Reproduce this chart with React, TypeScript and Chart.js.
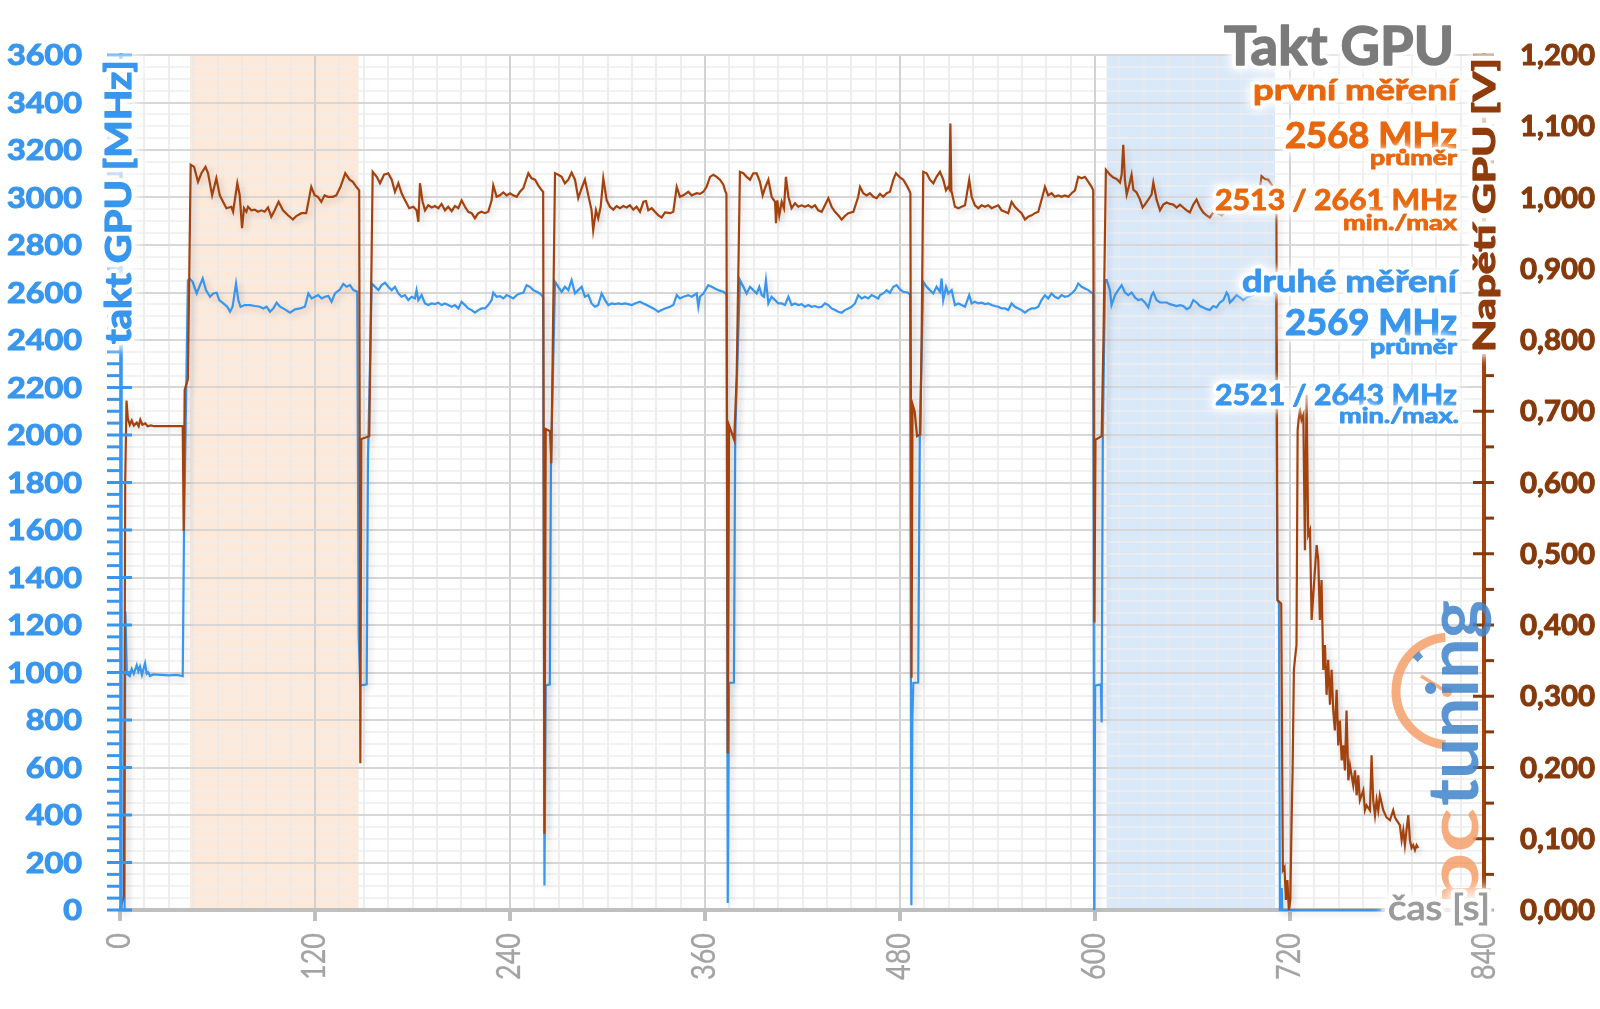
import { useEffect, useRef } from 'react';
import { Chart, registerables } from 'chart.js';

Chart.register(...registerables);

const W = 1600;
const H = 1009;

// ---------- axis ticks ----------
const timeTicks = [0, 120, 240, 360, 480, 600, 720, 840];
const clockTicks = [0, 200, 400, 600, 800, 1000, 1200, 1400, 1600, 1800, 2000, 2200, 2400, 2600, 2800, 3000, 3200, 3400, 3600];
const voltTicks = [0, 0.1, 0.2, 0.3, 0.4, 0.5, 0.6, 0.7, 0.8, 0.9, 1.0, 1.1, 1.2];
const voltTickLabels = ['0,000', '0,100', '0,200', '0,300', '0,400', '0,500', '0,600', '0,700', '0,800', '0,900', '1,000', '1,100', '1,200'];

// shaded ranges [from s, to s]
const bandFirst = [43.1, 146.8];
const bandSecond = [607.2, 710.8];

// ---------- GPU voltage [V] ----------
const voltageStart = [[0, 0], [2.4, 0.02], [3.2, 0.6], [4.0, 0.715], [4.8, 0.69], [6, 0.681], [7.2, 0.687], [8.5, 0.68], [10.3, 0.684], [11.5, 0.679], [12.5, 0.688], [13.8, 0.681], [15.5, 0.683], [17, 0.679], [19, 0.68], [21, 0.679], [38.6, 0.679], [39.2, 0.532], [39.8, 0.73], [41.8, 0.745], [43.5, 1.046]];
const voltageRun1 = [[45.6, 1.043], [48.0, 1.022], [50.1, 1.034], [52.6, 1.043], [54.2, 1.034], [56.7, 1.003], [59.3, 1.027], [61.4, 1.003], [63.4, 0.994], [65.5, 0.985], [68.5, 0.987], [69.6, 0.980], [72.2, 1.020], [73.7, 1.003], [75.1, 0.957], [76.3, 0.985], [77.8, 0.980], [78.8, 0.987], [80.8, 0.982], [82.9, 0.983], [84.9, 0.980], [87.0, 0.982], [89.0, 0.980], [91.1, 0.986], [93.1, 0.973], [95.2, 0.982], [97.6, 0.994], [100.3, 0.982], [103.4, 0.975], [106.4, 0.969], [108.5, 0.974], [111.6, 0.978], [114.6, 0.978], [117.7, 1.015], [119.8, 1.003], [121.8, 1.001], [123.9, 0.994], [125.9, 1.003], [128.0, 1.001], [131.0, 1.001], [133.1, 1.003], [135.7, 1.015], [138.6, 1.034], [141.3, 1.025], [143.3, 1.022], [145.4, 1.015], [147.2, 1.010], [147.9, 0.206], [148.5, 0.661], [153.4, 0.665]];
const voltageRun2 = [[155.5, 1.036], [158.0, 1.029], [160.0, 1.020], [162.5, 1.032], [165.1, 1.034], [167.2, 1.025], [169.2, 1.008], [171.3, 1.020], [173.3, 1.006], [175.4, 0.996], [178.0, 0.985], [180.5, 0.987], [182.5, 0.982], [183.6, 0.966], [184.6, 1.020], [186.2, 0.994], [187.7, 0.982], [189.7, 0.989], [191.8, 0.986], [193.8, 0.988], [195.9, 0.985], [197.9, 0.991], [200.0, 0.982], [202.0, 0.987], [204.1, 0.981], [206.1, 0.988], [208.2, 0.985], [210.2, 0.996], [212.3, 0.987], [214.3, 0.980], [216.4, 0.978], [218.4, 0.971], [220.5, 0.978], [222.5, 0.980], [224.6, 0.978], [226.6, 0.980], [228.7, 0.996], [229.7, 1.017], [231.8, 1.001], [233.8, 1.003], [235.9, 1.007], [237.9, 1.003], [240.0, 1.006], [242.0, 1.003], [244.1, 1.001], [246.1, 1.008], [248.2, 1.013], [250.2, 1.027], [251.3, 1.034], [253.3, 1.027], [255.4, 1.025], [257.4, 1.017], [259.5, 1.010], [260.4, 1.008], [261.2, 0.107], [262.0, 0.675], [264.6, 0.672], [265.4, 0.627]];
const voltageRun3 = [[267.7, 1.034], [269.7, 1.032], [271.8, 1.029], [273.8, 1.020], [275.9, 1.025], [277.9, 1.035], [280.0, 1.025], [282.0, 0.999], [284.1, 1.013], [286.1, 1.025], [288.2, 1.003], [290.2, 0.982], [291.2, 0.954], [292.9, 0.982], [294.3, 0.971], [295.8, 0.987], [297.4, 1.027], [299.5, 0.996], [301.5, 0.987], [303.6, 0.983], [305.6, 0.988], [307.7, 0.985], [309.7, 0.988], [311.8, 0.986], [313.8, 0.989], [315.9, 0.983], [317.9, 0.987], [320.0, 0.980], [322.1, 0.994], [323.7, 0.995], [325.1, 0.982], [327.2, 0.985], [329.2, 0.980], [331.3, 0.975], [333.3, 0.972], [335.4, 0.979], [338.5, 0.978], [340.5, 0.980], [342.6, 1.015], [344.6, 1.001], [346.7, 1.003], [349.7, 1.008], [351.8, 1.003], [354.9, 1.006], [356.9, 1.005], [359.0, 1.008], [361.0, 1.015], [363.1, 1.029], [365.1, 1.032], [367.2, 1.029], [369.2, 1.025], [371.3, 1.018], [372.3, 1.010], [373.2, 1.005], [374.0, 0.22], [374.8, 0.68], [378.0, 0.66], [379.5, 0.75]];
const voltageRun4 = [[381.5, 1.036], [383.6, 1.034], [385.6, 1.029], [387.7, 1.025], [389.7, 1.034], [391.8, 1.034], [393.8, 1.022], [395.5, 1.003], [396.9, 1.013], [399.0, 1.025], [401.0, 1.001], [403.1, 0.994], [403.7, 0.964], [404.5, 0.996], [405.7, 0.975], [407.2, 0.994], [408.6, 0.985], [409.8, 1.029], [411.3, 1.001], [413.3, 0.985], [415.4, 0.992], [417.4, 0.987], [419.5, 0.989], [421.5, 0.987], [423.6, 0.989], [425.6, 0.986], [427.7, 0.989], [429.7, 0.982], [431.8, 0.980], [433.8, 0.989], [435.9, 0.999], [437.9, 0.987], [440.0, 0.980], [442.0, 0.975], [444.1, 0.969], [446.1, 0.974], [448.2, 0.978], [451.3, 0.980], [454.3, 1.001], [455.4, 1.015], [457.4, 1.006], [459.5, 1.003], [461.5, 1.006], [463.6, 1.001], [465.6, 0.999], [467.7, 1.005], [469.7, 1.001], [471.8, 1.006], [473.8, 1.008], [475.9, 1.025], [477.5, 1.034], [479.6, 1.029], [482.0, 1.025], [484.1, 1.017], [485.7, 1.010], [486.4, 1.006], [487.1, 0.326], [487.7, 0.71], [489.0, 0.70], [490.5, 0.665], [492.5, 0.668], [493.3, 0.80]];
const voltageRun5 = [[494.3, 1.036], [496.4, 1.034], [498.4, 1.025], [500.5, 1.020], [502.5, 1.029], [504.6, 1.036], [506.6, 1.025], [508.3, 1.010], [509.7, 1.015], [510.4, 1.012], [511.0, 1.104], [511.6, 1.010], [513.8, 0.987], [515.9, 0.985], [517.9, 0.987], [520.0, 0.989], [522.6, 1.025], [524.1, 1.001], [526.1, 0.989], [528.2, 0.985], [530.2, 0.989], [532.3, 0.987], [534.3, 0.989], [536.4, 0.985], [538.4, 0.987], [540.5, 0.989], [542.5, 0.982], [544.6, 0.980], [546.6, 0.978], [548.7, 0.994], [550.7, 0.987], [552.8, 0.982], [554.8, 0.978], [556.9, 0.969], [558.9, 0.973], [561.0, 0.975], [563.0, 0.978], [565.1, 0.980], [568.2, 1.006], [569.2, 1.015], [571.2, 1.003], [573.3, 1.006], [575.3, 1.001], [577.4, 1.003], [579.4, 1.001], [581.5, 1.003], [583.6, 1.001], [585.6, 1.006], [587.7, 1.010], [589.7, 1.029], [591.8, 1.027], [593.8, 1.029], [595.9, 1.022], [597.9, 1.015], [598.9, 1.010], [599.6, 0.404], [600.3, 0.66], [604.1, 0.665], [605.2, 0.80]];
const voltageRun6 = [[606.7, 1.039], [609.2, 1.032], [611.3, 1.028], [613.3, 1.026], [615.4, 1.021], [616.4, 1.032], [617.4, 1.074], [618.4, 1.025], [619.5, 1.004], [621.1, 1.018], [622.5, 1.032], [623.6, 1.011], [625.6, 1.007], [627.7, 0.997], [629.3, 0.986], [630.7, 0.990], [632.8, 0.997], [634.8, 1.004], [635.9, 1.021], [637.9, 0.997], [640.0, 0.982], [642.0, 0.990], [644.1, 0.993], [646.1, 0.991], [648.2, 0.990], [650.2, 0.986], [652.3, 0.990], [654.3, 0.986], [656.4, 0.982], [658.4, 0.979], [660.5, 0.990], [662.5, 0.997], [664.6, 0.986], [666.6, 0.979], [668.7, 0.975], [670.7, 0.972], [672.8, 0.979], [674.8, 0.979], [678, 0.975], [682, 0.985], [686, 0.99], [690, 0.985], [694, 0.995], [698, 1.0], [701, 1.005], [702.5, 1.030], [704.6, 1.026], [706.6, 1.025], [708.7, 1.018], [710.7, 1.01], [711.6, 1.005]];
const voltageTail = [[712.3, 0.435], [714.6, 0.43], [715.6, 0.056], [716.6, 0.06], [717.5, 0.014], [718.4, 0.042], [719.3, 0.0], [720.2, 0.014], [721.0, 0.126], [721.6, 0.196], [722.4, 0.337], [723.0, 0.351], [724.0, 0.372], [724.7, 0.674], [725.3, 0.688], [726.1, 0.702], [727.1, 0.688], [728.2, 0.695], [729.2, 0.505], [730.2, 0.723], [731.2, 0.526], [732.3, 0.533], [733.3, 0.407], [734.3, 0.442], [736.4, 0.512], [737.4, 0.491], [738.4, 0.407], [739.4, 0.463], [740.5, 0.337], [741.5, 0.372], [742.5, 0.302], [743.5, 0.351], [744.6, 0.288], [745.6, 0.337], [746.6, 0.280], [747.6, 0.252], [748.7, 0.309], [749.7, 0.231], [750.7, 0.266], [751.8, 0.210], [752.8, 0.231], [753.8, 0.196], [754.8, 0.280], [755.9, 0.182], [756.9, 0.203], [758.9, 0.175], [760.0, 0.196], [761.0, 0.161], [762.0, 0.189], [763.0, 0.154], [765.1, 0.168], [766.1, 0.140], [767.1, 0.147], [769.2, 0.140], [770.2, 0.217], [771.2, 0.154], [772.3, 0.133], [773.3, 0.154], [774.3, 0.140], [775.3, 0.161], [777.4, 0.140], [779.4, 0.130], [781.5, 0.126], [783.5, 0.140], [784.6, 0.130], [785.6, 0.126], [787.6, 0.119], [788.7, 0.098], [789.7, 0.112], [790.7, 0.091], [791.7, 0.112], [792.8, 0.133], [793.8, 0.098], [794.8, 0.087], [795.8, 0.091], [796.9, 0.084], [797.9, 0.091], [798.9, 0.087]];

// ---------- GPU clock [MHz] ----------
const clockStart = [[0, 0], [2.8, 0], [3.3, 1257], [4.2, 995], [6, 985], [7.2, 1015], [8.5, 995], [10.3, 1031], [11.3, 1005], [12.3, 1025], [13.5, 990], [15.4, 1039], [16.5, 995], [17.4, 1000], [18.5, 985], [20.5, 992], [25, 990], [30, 988], [35, 990], [38.6, 985], [39.4, 1600], [41.8, 2650]];
const clockRun1 = [[42.7, 2659], [44.7, 2645], [47.2, 2596], [48.8, 2624], [50.9, 2659], [52.9, 2610], [55.4, 2582], [57.4, 2596], [59.5, 2599], [61.1, 2568], [63.6, 2554], [66.0, 2540], [67.7, 2519], [69.3, 2540], [71.4, 2638], [72.8, 2568], [74.2, 2540], [76.9, 2547], [80.0, 2547], [83.1, 2543], [86.1, 2540], [88.2, 2533], [90.2, 2540], [92.3, 2519], [94.4, 2533], [96.4, 2557], [98.5, 2540], [101.5, 2529], [104.6, 2515], [107.7, 2529], [110.8, 2533], [113.8, 2540], [115.9, 2596], [117.9, 2575], [120.0, 2582], [122.0, 2589], [124.1, 2575], [126.1, 2582], [128.2, 2585], [130.2, 2561], [132.3, 2596], [135.4, 2613], [137.4, 2636], [139.5, 2624], [141.5, 2631], [143.6, 2610], [146.0, 2603], [146.9, 1150], [147.8, 945], [151.8, 950], [152.6, 1900]];
const clockRun2 = [[154.9, 2638], [156.9, 2624], [159.0, 2610], [161.0, 2631], [163.1, 2641], [165.1, 2624], [167.2, 2610], [169.2, 2624], [171.3, 2596], [173.3, 2582], [175.4, 2589], [177.4, 2568], [179.5, 2582], [181.5, 2575], [182.5, 2610], [183.6, 2568], [185.6, 2589], [187.7, 2554], [189.7, 2547], [191.8, 2554], [193.8, 2551], [195.9, 2557], [197.9, 2547], [200.0, 2554], [202.0, 2547], [204.1, 2540], [206.1, 2547], [208.2, 2533], [210.2, 2561], [212.3, 2547], [214.3, 2533], [216.4, 2526], [218.4, 2515], [220.5, 2526], [222.5, 2533], [224.6, 2533], [226.6, 2547], [228.7, 2568], [229.7, 2599], [231.8, 2582], [233.8, 2585], [235.9, 2575], [237.9, 2589], [240.0, 2582], [242.0, 2575], [244.1, 2589], [246.1, 2596], [248.2, 2599], [250.2, 2631], [252.3, 2624], [254.3, 2610], [256.4, 2603], [258.4, 2596], [259.5, 2589], [260.4, 2580], [261.2, 103], [262.0, 945], [264.5, 950], [265.2, 1882]];
const clockRun3 = [[267.7, 2645], [269.7, 2624], [271.8, 2603], [273.8, 2624], [275.9, 2610], [277.9, 2652], [280.0, 2596], [282.0, 2610], [284.1, 2624], [286.1, 2582], [288.2, 2589], [290.2, 2554], [292.3, 2540], [294.3, 2547], [296.4, 2596], [298.5, 2568], [300.5, 2547], [302.6, 2554], [304.6, 2551], [306.7, 2554], [308.7, 2551], [310.8, 2554], [312.8, 2551], [314.9, 2547], [316.9, 2554], [320.0, 2561], [322.1, 2554], [324.1, 2547], [326.2, 2540], [328.2, 2533], [331.3, 2519], [333.3, 2526], [335.4, 2533], [338.5, 2540], [340.5, 2547], [342.6, 2589], [344.6, 2575], [346.7, 2582], [349.7, 2589], [351.8, 2582], [354.9, 2596], [355.9, 2540], [356.9, 2582], [359.0, 2596], [362.0, 2631], [364.1, 2624], [366.1, 2617], [368.2, 2610], [371.3, 2603], [372.3, 2599], [373.3, 2590], [374.0, 29], [374.8, 956], [377.8, 958], [378.6, 2000]];
const clockRun4 = [[381.5, 2652], [383.6, 2624], [385.6, 2596], [387.7, 2624], [389.7, 2610], [391.8, 2596], [393.4, 2624], [394.9, 2589], [396.3, 2582], [397.5, 2652], [399.0, 2554], [401.0, 2582], [403.1, 2568], [405.1, 2554], [407.2, 2554], [409.2, 2547], [411.3, 2582], [413.3, 2547], [415.4, 2554], [417.4, 2547], [419.5, 2551], [421.5, 2540], [423.6, 2547], [425.6, 2540], [427.7, 2543], [429.7, 2537], [431.8, 2540], [433.8, 2554], [435.9, 2547], [437.9, 2533], [440.0, 2526], [442.0, 2519], [444.1, 2515], [446.1, 2526], [448.2, 2533], [450.2, 2540], [452.3, 2554], [454.3, 2589], [456.4, 2575], [458.4, 2582], [460.5, 2575], [462.5, 2589], [464.6, 2582], [466.6, 2575], [467.7, 2589], [469.7, 2596], [471.8, 2610], [473.8, 2599], [475.9, 2624], [477.9, 2631], [480.0, 2613], [482.0, 2603], [485.1, 2599], [486.2, 2590], [487.0, 20], [487.6, 800], [488.2, 956], [491.2, 958], [492.2, 2000]];
const clockRun5 = [[494.3, 2645], [496.4, 2624], [498.4, 2610], [500.5, 2596], [502.5, 2624], [504.6, 2603], [505.6, 2659], [506.6, 2568], [508.3, 2624], [509.7, 2596], [511.8, 2610], [513.8, 2547], [515.9, 2554], [517.9, 2547], [520.0, 2540], [522.6, 2589], [524.1, 2554], [526.1, 2561], [528.2, 2554], [530.2, 2557], [532.3, 2551], [534.3, 2554], [536.4, 2547], [538.4, 2543], [540.5, 2540], [542.5, 2533], [544.6, 2533], [546.6, 2526], [548.7, 2554], [550.7, 2540], [552.8, 2533], [554.8, 2526], [556.9, 2515], [558.9, 2526], [561.0, 2533], [563.0, 2533], [565.1, 2540], [567.1, 2568], [569.2, 2589], [571.2, 2575], [573.3, 2596], [575.3, 2582], [577.4, 2575], [579.4, 2589], [581.5, 2582], [583.6, 2585], [585.6, 2596], [587.7, 2610], [589.7, 2638], [591.8, 2624], [593.8, 2617], [595.9, 2610], [597.9, 2599], [598.9, 2596], [599.5, 0], [600.1, 945], [603.6, 950], [604.1, 790], [604.8, 1990]];
const clockRun6 = [[606.2, 2652], [607.2, 2652], [609.2, 2610], [610.2, 2547], [612.3, 2589], [614.3, 2610], [616.4, 2631], [618.4, 2600], [620.5, 2589], [622.5, 2600], [624.6, 2579], [626.6, 2568], [628.7, 2572], [630.7, 2558], [632.8, 2537], [634.8, 2589], [635.9, 2600], [637.9, 2568], [640.0, 2558], [642.0, 2558], [644.1, 2558], [646.1, 2551], [648.2, 2547], [650.2, 2543], [652.3, 2547], [654.3, 2543], [656.4, 2530], [658.4, 2537], [660.5, 2568], [662.5, 2558], [664.6, 2543], [666.6, 2537], [668.7, 2530], [670.7, 2526], [672.8, 2543], [674.8, 2537], [676.9, 2558], [679.0, 2568], [681.0, 2600], [682.0, 2589], [683.0, 2558], [685.1, 2572], [687.1, 2589], [689.2, 2579], [691.2, 2568], [693.3, 2579], [696, 2585], [700, 2600], [703, 2620], [706, 2610], [709, 2600], [711.4, 2595]];
const clockTail = [[712.2, 1310], [713.2, 1290], [713.8, 0], [714.6, 0], [714.9, 93], [715.3, 0], [776, 0]];

// ---------- colours ----------
const BLUE = '#3896EE';
const BROWN_LINE = '#A4420E';
const BROWN_TEXT = '#863A0B';
const ORANGE = '#E8670D';
const GRAY_TITLE = '#7B7B7B';
const GRAY_TICK = '#A3A3A3';
const FONT = 'Lato, "Open Sans", "DejaVu Sans", sans-serif';

const toPts = (a: number[][]) => a.map(([x, y]) => ({ x, y }));

type TOpts = {
  size: number;
  weight?: string;
  color: string;
  align?: CanvasTextAlign;
  base?: CanvasTextBaseline;
  w?: number;
  sx?: number;
  rot?: boolean;
  halo?: number;
  alpha?: number;
  bold?: number;
};

function measure(ctx: CanvasRenderingContext2D, s: string, size: number, weight = 'bold') {
  ctx.save();
  ctx.font = `${weight} ${size}px ${FONT}`;
  const m = ctx.measureText(s).width;
  ctx.restore();
  return m;
}

function drawText(ctx: CanvasRenderingContext2D, s: string, x: number, y: number, o: TOpts) {
  ctx.save();
  ctx.font = `${o.weight ?? 'bold'} ${o.size}px ${FONT}`;
  const m = ctx.measureText(s).width;
  ctx.translate(x, y);
  if (o.rot) ctx.rotate(-Math.PI / 2);
  const sx = o.w ? o.w / m : o.sx ?? 1;
  ctx.scale(sx, 1);
  ctx.textAlign = o.align ?? 'left';
  ctx.textBaseline = o.base ?? 'alphabetic';
  if (o.alpha !== undefined) ctx.globalAlpha = o.alpha;
  ctx.lineJoin = 'round';
  if (o.halo) {
    ctx.strokeStyle = 'rgba(255,255,255,0.95)';
    ctx.shadowColor = '#ffffff';
    ctx.shadowBlur = o.halo * 1.5;
    ctx.lineWidth = o.halo;
    ctx.strokeText(s, 0, 0);
    ctx.strokeText(s, 0, 0);
    ctx.shadowBlur = 0;
    ctx.shadowColor = 'rgba(0,0,0,0)';
  }
  ctx.fillStyle = o.color;
  ctx.fillText(s, 0, 0);
  const b = o.bold ?? (o.weight === 'normal' ? 0 : 0.9);
  if (b > 0) {
    ctx.strokeStyle = o.color;
    ctx.lineWidth = b;
    ctx.strokeText(s, 0, 0);
  }
  ctx.restore();
}

const decor = {
  id: 'decor',
  beforeDraw(chart: any) {
    const { ctx } = chart;
    ctx.save();
    ctx.fillStyle = '#ffffff';
    ctx.fillRect(0, 0, chart.width, chart.height);
    ctx.restore();
  },
  beforeDatasetsDraw(chart: any) {
    const { ctx, chartArea: a, scales } = chart;
    const x = scales.x;
    const y = scales.y;
    ctx.save();
    const band = (r: number[], col: string) => {
      const x0 = x.getPixelForValue(r[0]);
      const x1 = x.getPixelForValue(r[1]);
      ctx.fillStyle = col;
      ctx.fillRect(x0, a.top, x1 - x0, a.bottom - a.top);
    };
    band(bandFirst, '#FDE9DA');
    band(bandSecond, '#DAE9F9');
    for (let pass = 0; pass < 2; pass++) {
      for (let t = 0; t <= 840; t += 15) {
        const major = t % 120 === 0;
        if ((pass === 1) !== major) continue;
        const px = Math.round(x.getPixelForValue(t));
        ctx.strokeStyle = major ? '#D2D2D2' : '#E8E8E8';
        ctx.lineWidth = major ? 2 : 1.5;
        ctx.beginPath();
        ctx.moveTo(px, a.top);
        ctx.lineTo(px, a.bottom);
        ctx.stroke();
      }
      for (let m = 0; m <= 3600; m += 50) {
        const major = m % 200 === 0;
        if ((pass === 1) !== major) continue;
        const py = Math.round(y.getPixelForValue(m));
        ctx.strokeStyle = major ? '#D7D7D7' : '#EEEEEE';
        ctx.lineWidth = major ? 2 : 1.5;
        ctx.beginPath();
        ctx.moveTo(a.left, py);
        ctx.lineTo(a.right, py);
        ctx.stroke();
      }
    }
    ctx.strokeStyle = '#BFBFBF';
    ctx.lineWidth = 4;
    ctx.beginPath();
    ctx.moveTo(a.left, a.bottom);
    ctx.lineTo(a.right, a.bottom);
    ctx.stroke();
    timeTicks.forEach((t) => {
      const px = x.getPixelForValue(t);
      ctx.beginPath();
      ctx.moveTo(px, a.bottom);
      ctx.lineTo(px, a.bottom + 11);
      ctx.stroke();
    });
    ctx.restore();
    ctx.save();
    ctx.shadowColor = 'rgba(0,0,0,0.16)';
    ctx.shadowBlur = 6;
    ctx.shadowOffsetX = 3;
    ctx.shadowOffsetY = 3;
  },
  afterDatasetsDraw(chart: any) {
    chart.ctx.restore();
  },
  afterDraw(chart: any) {
    const { ctx, chartArea: a, scales } = chart;
    const x = scales.x;
    const y = scales.y;
    const yv = scales.yV;
    ctx.save();
    ctx.lineCap = 'butt';
    ctx.strokeStyle = BLUE;
    ctx.lineWidth = 3.5;
    ctx.beginPath();
    ctx.moveTo(a.left + 1, a.top - 2);
    ctx.lineTo(a.left + 1, a.bottom);
    ctx.stroke();
    ctx.lineWidth = 3;
    for (let m = 0; m <= 3600; m += 50) {
      const py = y.getPixelForValue(m);
      const major = m % 200 === 0;
      ctx.beginPath();
      ctx.moveTo(a.left - 13, py);
      ctx.lineTo(major ? a.left + 12 : a.left, py);
      ctx.stroke();
    }
    ctx.strokeStyle = BROWN_LINE;
    ctx.lineWidth = 4;
    ctx.beginPath();
    ctx.moveTo(a.right - 1, a.top - 2);
    ctx.lineTo(a.right - 1, a.bottom);
    ctx.stroke();
    ctx.strokeStyle = BROWN_TEXT;
    ctx.lineWidth = 3;
    for (let k = 0; k <= 24; k++) {
      const v = k * 0.05;
      const py = yv.getPixelForValue(v);
      const major = k % 2 === 0;
      ctx.beginPath();
      ctx.moveTo(major ? a.right - 12 : a.right, py);
      ctx.lineTo(a.right + 9, py);
      ctx.stroke();
    }
    ctx.restore();

    const sxL = 75 / measure(ctx, '3600', 29);
    clockTicks.forEach((m) => {
      drawText(ctx, String(m), 82, y.getPixelForValue(m) + 10, { size: 29, color: BLUE, align: 'right', sx: sxL, bold: 1.1 });
    });
    const sxR = 75 / measure(ctx, '1,200', 29);
    voltTicks.forEach((v, i) => {
      drawText(ctx, voltTickLabels[i], 1520, yv.getPixelForValue(v) + 10, { size: 29, color: BROWN_TEXT, align: 'left', sx: sxR, bold: 1.1 });
    });
    const sxX = 47 / measure(ctx, '120', 32, 'normal');
    timeTicks.forEach((t) => {
      drawText(ctx, String(t), x.getPixelForValue(t), 933, { size: 32, weight: 'normal', color: GRAY_TICK, align: 'right', base: 'middle', rot: true, sx: sxX, bold: 0.3 });
    });

    // logo watermark
    ctx.save();
    ctx.globalAlpha = 0.85;
    ctx.strokeStyle = '#F4A06A';
    ctx.lineWidth = 9;
    ctx.beginPath();
    ctx.arc(1450, 691, 54, (95 * Math.PI) / 180, (265 * Math.PI) / 180);
    ctx.stroke();
    ctx.strokeStyle = '#4A86C6';
    ctx.lineWidth = 7;
    ctx.beginPath();
    ctx.arc(1450, 691, 47, (222 * Math.PI) / 180, (232 * Math.PI) / 180);
    ctx.stroke();
    ctx.strokeStyle = '#F4A06A';
    ctx.lineWidth = 3.5;
    ctx.beginPath();
    ctx.moveTo(1447, 692);
    ctx.lineTo(1421, 676);
    ctx.stroke();
    ctx.fillStyle = '#F4A06A';
    ctx.beginPath();
    ctx.arc(1447, 692, 5, 0, Math.PI * 2);
    ctx.fill();
    ctx.restore();
    drawText(ctx, 'pc', 1478, 905, { size: 70, color: '#F4A06A', rot: true, w: 97, alpha: 0.85, bold: 0 });
    drawText(ctx, 'tuning', 1478, 806, { size: 70, color: '#3F84CA', rot: true, w: 206, alpha: 0.85, bold: 0 });

    // axis titles
    drawText(ctx, 'takt GPU [MHz]', 131, 202, { size: 36, color: BLUE, rot: true, align: 'center', w: 284, halo: 8, bold: 1.2 });
    drawText(ctx, 'Napětí GPU [V]', 1495, 205, { size: 31, color: '#8F3B0B', rot: true, align: 'center', w: 294, halo: 8, bold: 1.2 });
    drawText(ctx, 'čas [s]', 1490, 920, { size: 34, weight: 'normal', color: '#9C9C9C', align: 'right', w: 102, halo: 8, bold: 1.1 });

    // annotation block
    const R = 1457;
    drawText(ctx, 'Takt GPU', 1454, 65, { size: 53, color: GRAY_TITLE, align: 'right', w: 230, halo: 8, bold: 1.5 });
    drawText(ctx, 'první měření', R, 100, { size: 29, color: ORANGE, align: 'right', w: 204, halo: 7 });
    drawText(ctx, '2568 MHz', R, 148, { size: 37, color: ORANGE, align: 'right', w: 172, halo: 7, bold: 1.2 });
    drawText(ctx, 'průměr', R, 165, { size: 21, color: ORANGE, align: 'right', w: 87, halo: 6 });
    drawText(ctx, '2513 / 2661 MHz', R, 210, { size: 28, color: ORANGE, align: 'right', w: 242, halo: 7 });
    drawText(ctx, 'min./max', R, 230, { size: 21, color: ORANGE, align: 'right', w: 114, halo: 6 });
    drawText(ctx, 'druhé měření', R, 292, { size: 31, color: BLUE, align: 'right', w: 215, halo: 7 });
    drawText(ctx, '2569 MHz', R, 335, { size: 37, color: BLUE, align: 'right', w: 172, halo: 7, bold: 1.2 });
    drawText(ctx, 'průměr', R, 354, { size: 21, color: BLUE, align: 'right', w: 87, halo: 6 });
    drawText(ctx, '2521 / 2643 MHz', R, 405, { size: 28, color: BLUE, align: 'right', w: 242, halo: 7 });
    drawText(ctx, 'min./max.', R + 2, 423, { size: 21, color: BLUE, align: 'right', w: 120, halo: 6 });
  },
};

export default function App() {
  const ref = useRef<HTMLCanvasElement>(null);
  useEffect(() => {
    let chart: Chart | null = null;
    let cancelled = false;
    const make = () => {
      if (cancelled || !ref.current) return;
      const voltagePoints = toPts([...voltageStart, ...voltageRun1, ...voltageRun2, ...voltageRun3, ...voltageRun4, ...voltageRun5, ...voltageRun6, ...voltageTail]);
      const clockPoints = toPts([...clockStart, ...clockRun1, ...clockRun2, ...clockRun3, ...clockRun4, ...clockRun5, ...clockRun6, ...clockTail]);
      chart = new Chart(ref.current, {
        type: 'line',
        data: {
          datasets: [
            { label: 'Napětí GPU [V]', data: voltagePoints, yAxisID: 'yV', borderColor: BROWN_LINE, borderWidth: 2.2, pointRadius: 0, tension: 0, clip: 8 } as any,
            { label: 'takt GPU [MHz]', data: clockPoints, yAxisID: 'y', borderColor: BLUE, borderWidth: 2.2, pointRadius: 0, tension: 0, clip: 8 } as any,
          ],
        },
        options: {
          animation: false,
          responsive: false,
          devicePixelRatio: 1,
          layout: { padding: { top: 55, left: 0, right: 0, bottom: 0 } },
          plugins: { legend: { display: false }, tooltip: { enabled: false } },
          scales: {
            x: {
              type: 'linear', min: 0, max: 840,
              ticks: { display: false, stepSize: 120 },
              grid: { display: false }, border: { display: false },
              afterFit: (s: any) => { s.height = H - 910; },
            },
            y: {
              type: 'linear', position: 'left', min: 0, max: 3600,
              ticks: { display: false, stepSize: 200 },
              grid: { display: false }, border: { display: false },
              afterFit: (s: any) => { s.width = 120; },
            },
            yV: {
              type: 'linear', position: 'right', min: 0, max: 1.2,
              ticks: { display: false, stepSize: 0.1 },
              grid: { display: false }, border: { display: false },
              afterFit: (s: any) => { s.width = W - 1485; },
            },
          },
        } as any,
        plugins: [decor as any],
      });
    };
    const fonts = (document as any).fonts;
    if (fonts && fonts.load) {
      Promise.all([fonts.load(`bold 28px Lato`), fonts.load(`28px Lato`)]).then(make, make);
    } else {
      make();
    }
    return () => {
      cancelled = true;
      if (chart) chart.destroy();
    };
  }, []);
  return (
    <div style={{ position: 'fixed', left: 0, top: 0, width: W, height: H, background: '#ffffff' }}>
      <canvas ref={ref} width={W} height={H} style={{ display: 'block', width: W, height: H }} />
    </div>
  );
}
